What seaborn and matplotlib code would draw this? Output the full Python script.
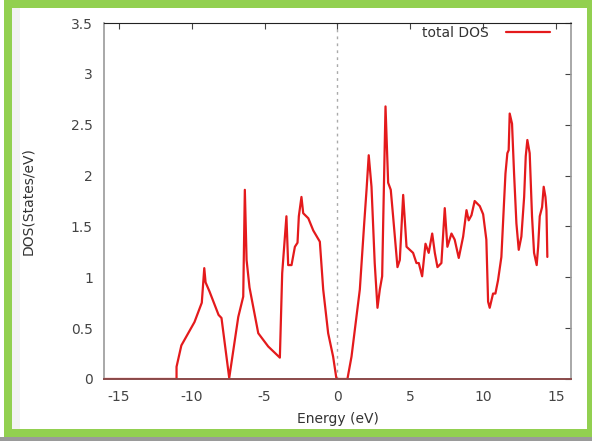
import matplotlib
matplotlib.use("Agg")
import matplotlib.pyplot as plt
from matplotlib.patches import Rectangle
from matplotlib.ticker import FuncFormatter
import pandas as pd
import seaborn as sns

# Total density of states vs energy (Fermi level at 0 eV)
energy = [
    -16.0, -11.03, -11.03, -10.7, -9.8, -9.3, -9.13, -9.04, -8.77, -8.15, -7.95,
    -7.42, -6.8, -6.46, -6.35, -6.23, -6.03, -5.43, -4.75, -3.95, -3.79, -3.5,
    -3.38, -3.15, -2.92, -2.74, -2.65, -2.47, -2.35, -2.0, -1.66, -1.21, -0.98,
    -0.64, -0.3, -0.07, 0.68, 0.96, 1.53, 1.83, 1.99, 2.14, 2.33, 2.55, 2.74,
    2.9, 3.06, 3.13, 3.29, 3.47, 3.65, 3.81, 4.11, 4.27, 4.5, 4.73, 5.18, 5.41,
    5.57, 5.8, 6.03, 6.25, 6.49, 6.67, 6.85, 7.12, 7.35, 7.53, 7.81, 8.03, 8.31,
    8.61, 8.84, 8.99, 9.18, 9.4, 9.75, 9.98, 10.2, 10.32, 10.43, 10.66, 10.82,
    11.0, 11.23, 11.42, 11.51, 11.64, 11.73, 11.8, 11.96, 12.1, 12.26, 12.42,
    12.6, 12.79, 12.9, 13.01, 13.17, 13.33, 13.47, 13.65, 13.75, 13.86, 14.02,
    14.13, 14.25, 14.32, 14.38,
]
dos = [
    0.0, 0.0, 0.12, 0.33, 0.56, 0.75, 1.09, 0.95, 0.86, 0.63, 0.60,
    0.01, 0.61, 0.81, 1.86, 1.17, 0.90, 0.45, 0.32, 0.21, 1.04, 1.60,
    1.12, 1.12, 1.30, 1.34, 1.60, 1.79, 1.63, 1.58, 1.46, 1.35, 0.88,
    0.45, 0.22, 0.0, 0.0, 0.22, 0.88, 1.53, 1.86, 2.20, 1.89, 1.14, 0.70,
    0.88, 1.01, 1.53, 2.68, 1.93, 1.86, 1.60, 1.10, 1.17, 1.81, 1.30, 1.24, 1.14,
    1.14, 1.01, 1.33, 1.24, 1.43, 1.24, 1.10, 1.14, 1.68, 1.30, 1.43, 1.37, 1.19,
    1.40, 1.66, 1.56, 1.61, 1.75, 1.70, 1.62, 1.37, 0.76, 0.70, 0.84, 0.84,
    0.97, 1.20, 1.76, 2.02, 2.22, 2.25, 2.61, 2.51, 2.02, 1.53, 1.27,
    1.40, 1.79, 2.19, 2.35, 2.22, 1.60, 1.24, 1.12, 1.30, 1.60, 1.69,
    1.89, 1.79, 1.66, 1.20,
]
x_ticks = [-15, -10, -5, 0, 5, 10, 15]
y_ticks = [0, 0.5, 1, 1.5, 2, 2.5, 3, 3.5]

df = pd.DataFrame({"Energy": energy, "DOS": dos})

sns.set_style("white")
plt.rcParams["font.family"] = ["DejaVu Sans"]
plt.rcParams["axes.unicode_minus"] = False

fig = plt.figure(figsize=(5.92, 4.41), dpi=100)
ax = fig.add_axes([0.1757, 0.1406, 0.7888, 0.8072])

sns.lineplot(data=df, x="Energy", y="DOS", sort=False, estimator=None, ax=ax,
             color="#e41a1c", linewidth=1.6, label="total DOS")

# Fermi level marker
ax.axvline(0, color="#aaaaaa", linestyle=(0, (2, 3)), linewidth=1.0, zorder=0)

ax.set_xlim(-16, 16)
ax.set_ylim(0, 3.5)
ax.set_xticks(x_ticks)
ax.set_yticks(y_ticks)
ax.yaxis.set_major_formatter(FuncFormatter(lambda v, p: f"{v:g}"))
ax.tick_params(direction="in", length=4, width=0.8, top=True, right=True,
               colors="#444444", labelsize=10, labelcolor="#444444", pad=8)

ax.spines["top"].set_color("#222222")
for side in ["left", "right"]:
    ax.spines[side].set_color("#999999")
    ax.spines[side].set_linewidth(1.2)
ax.spines["bottom"].set_color("#8a4a4a")
ax.spines["bottom"].set_linewidth(1.4)

ax.set_xlabel("Energy (eV)", fontsize=10, color="#333333", labelpad=6)
ax.set_ylabel("DOS(States/eV)", fontsize=10, color="#333333", labelpad=26)

leg = ax.legend(loc="upper right", bbox_to_anchor=(0.967, 1.007),
                borderaxespad=0, frameon=False, markerfirst=False,
                fontsize=10, handlelength=3.2, handletextpad=1.2)
for t in leg.get_texts():
    t.set_color("#333333")

# Green frame around the figure
green = "#92D050"
W, H = 592, 441
def frect(x0, y0, w, h, **kw):
    fig.add_artist(Rectangle((x0 / W, 1 - (y0 + h) / H), w / W, h / H,
                             transform=fig.transFigure, linewidth=0, **kw))
frect(0, 437, 592, 4, color="#9a9a9a")
frect(4, 0, 588, 8, color=green)
frect(4, 429, 588, 8, color=green)
frect(4, 0, 8, 437, color=green)
frect(587, 0, 5, 437, color=green)
frect(12, 8, 8, 421, color="#f2f2f2")

fig.savefig("out.png", dpi=100)
